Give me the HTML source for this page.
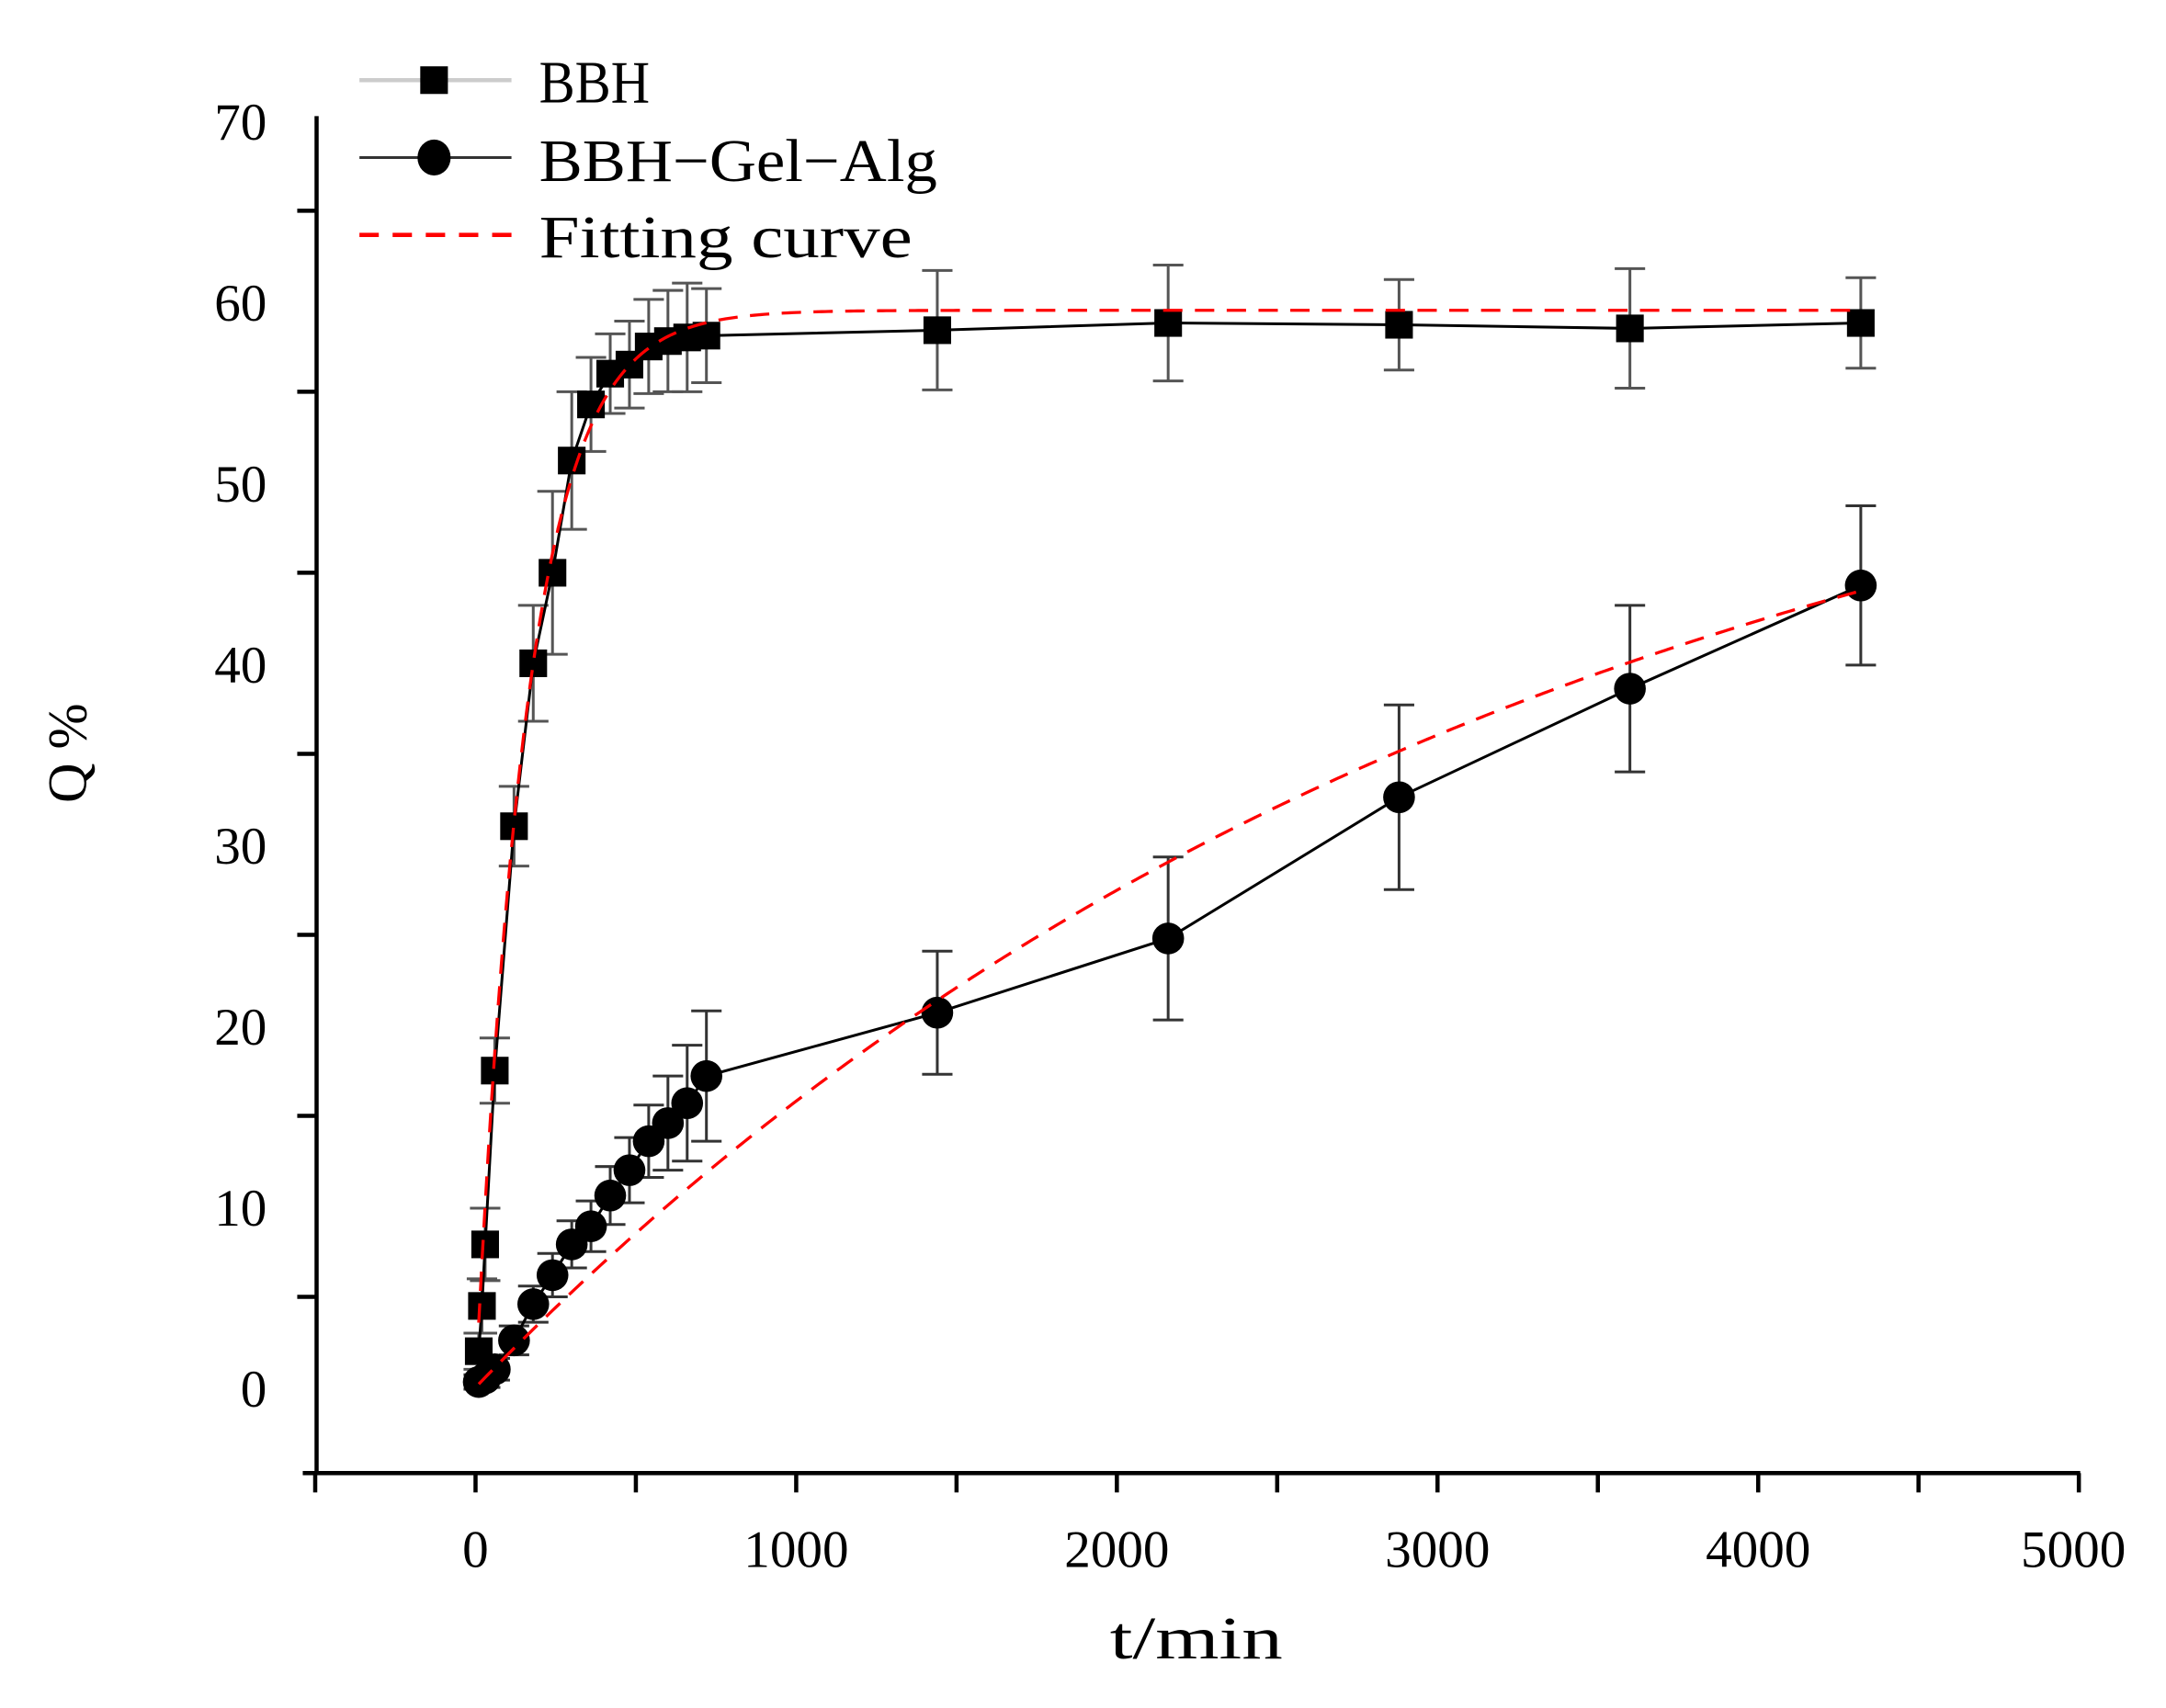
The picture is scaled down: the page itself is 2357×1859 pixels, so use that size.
<!DOCTYPE html>
<html><head><meta charset="utf-8"><style>
html,body{margin:0;padding:0;background:#fff;}
svg{display:block;}
text{font-family:"Liberation Serif",serif;fill:#000;}
</style></head><body>
<svg id="s" width="2357" height="1859" viewBox="0 0 1567 1236" xmlns="http://www.w3.org/2000/svg">
<rect width="1567" height="1236" fill="#fff"/>
<g stroke="#000" stroke-width="3" fill="none">
<line x1="229" y1="84" x2="229" y2="1067"/>
<line x1="219" y1="1066" x2="1505" y2="1066"/>
</g>
<g id="ticks" stroke="#000" stroke-width="3"></g>
<g font-size="38" text-anchor="end">
<text x="193" y="101">70</text>
<text x="193" y="232">60</text>
<text x="193" y="363">50</text>
<text x="193" y="494">40</text>
<text x="193" y="625">30</text>
<text x="193" y="756">20</text>
<text x="193" y="887">10</text>
<text x="193" y="1018">0</text>
</g>
<g font-size="38" text-anchor="middle">
<text x="344" y="1134">0</text>
<text x="576" y="1134">1000</text>
<text x="808" y="1134">2000</text>
<text x="1040" y="1134">3000</text>
<text x="1272" y="1134">4000</text>
<text x="1500" y="1134">5000</text>
</g>
<text x="803" y="1200" font-size="44" textLength="125" lengthAdjust="spacingAndGlyphs">t/min</text>
<text transform="translate(62,545) rotate(-90)" font-size="40" text-anchor="middle">Q %</text>
<g id="plot"></g>
<line x1="260" y1="58" x2="370" y2="58" stroke="#ccc" stroke-width="3"/>
<rect x="304" y="48" width="20" height="20" fill="#000"/>
<line x1="260" y1="114" x2="370" y2="114" stroke="#333" stroke-width="2"/>
<ellipse cx="314" cy="114" rx="12" ry="13" fill="#000"/>
<line x1="260" y1="170" x2="370" y2="170" stroke="#f00" stroke-width="3" stroke-dasharray="14,10"/>
<g font-size="44">
<text x="390" y="74" textLength="80" lengthAdjust="spacingAndGlyphs">BBH</text>
<text x="390" y="131" textLength="288" lengthAdjust="spacingAndGlyphs">BBH−Gel−Alg</text>
<text x="390" y="186" textLength="270" lengthAdjust="spacingAndGlyphs">Fitting curve</text>
</g>
</svg>
<script>
const NS="http://www.w3.org/2000/svg";
const X=t=>344+t*0.232, Y=q=>1004-q*13.1;
function el(p,n,a){const e=document.createElementNS(NS,n);for(const k in a)e.setAttribute(k,a[k]);p.appendChild(e);return e;}
const tk=document.getElementById('ticks');
for(let t=-500;t<=5000;t+=500){el(tk,'line',{x1:X(t),y1:1066,x2:X(t),y2:1080});}
for(let q=5;q<=65;q+=10){el(tk,'line',{x1:215,y1:Y(q),x2:229,y2:Y(q)});}
const g=document.getElementById('plot');
const bbh=[[10,2,1],[20,4.5,1.5],[30,7.9,2],[60,17.5,1.8],[120,31,2.2],[180,40,3.2],[240,45,4.5],[300,51.2,3.8],[360,54.3,2.6],[420,56,2.2],[480,56.5,2.4],[540,57.5,2.6],[600,57.8,2.8],[660,58,3],[720,58.1,2.6],[1440,58.4,3.3],[2160,58.8,3.2],[2880,58.7,2.5],[3600,58.5,3.3],[4320,58.8,2.5]];
const gel=[[10,0.3,0.4],[30,0.5,0.5],[60,1,0.6],[120,2.6,0.8],[180,4.6,1],[240,6.2,1.2],[300,7.9,1.3],[360,8.9,1.4],[420,10.6,1.6],[480,12,1.8],[540,13.6,2],[600,14.6,2.6],[660,15.7,3.2],[720,17.2,3.6],[1440,20.7,3.4],[2160,24.8,4.5],[2880,32.6,5.1],[3600,38.6,4.6],[4320,44.3,4.4]];
function eb(d,col){d.forEach(([t,q,e])=>{const x=X(t);el(g,'line',{x1:x,y1:Y(q+e),x2:x,y2:Y(q-e),stroke:col,'stroke-width':2});
[q+e,q-e].forEach(v=>el(g,'line',{x1:x-11,y1:Y(v),x2:x+11,y2:Y(v),stroke:col,'stroke-width':2}));});}
eb(bbh,'#555');eb(gel,'#333');
el(g,'polyline',{points:bbh.map(p=>X(p[0])+','+Y(p[1])).join(' '),fill:'none',stroke:'#000','stroke-width':2});
el(g,'polyline',{points:gel.map(p=>X(p[0])+','+Y(p[1])).join(' '),fill:'none',stroke:'#000','stroke-width':2});
let f1=[],f2=[];
for(let t=10;t<=4320;t+=10){f1.push(X(t)+','+Y(59.5*(1-Math.exp(-0.0062*t))));f2.push(X(t)+','+Y(60*(1-Math.exp(-0.000306*t))));}
bbh.forEach(([t,q])=>el(g,'rect',{x:X(t)-10,y:Y(q)-10,width:20,height:20,fill:'#000'}));
gel.forEach(([t,q])=>el(g,'circle',{cx:X(t),cy:Y(q),r:11.5,fill:'#000'}));
el(g,'polyline',{points:f1.join(' '),fill:'none',stroke:'#f00','stroke-width':2.2,'stroke-dasharray':'14,9'});
el(g,'polyline',{points:f2.join(' '),fill:'none',stroke:'#f00','stroke-width':2.2,'stroke-dasharray':'14,9'});
</script>
</body></html>
